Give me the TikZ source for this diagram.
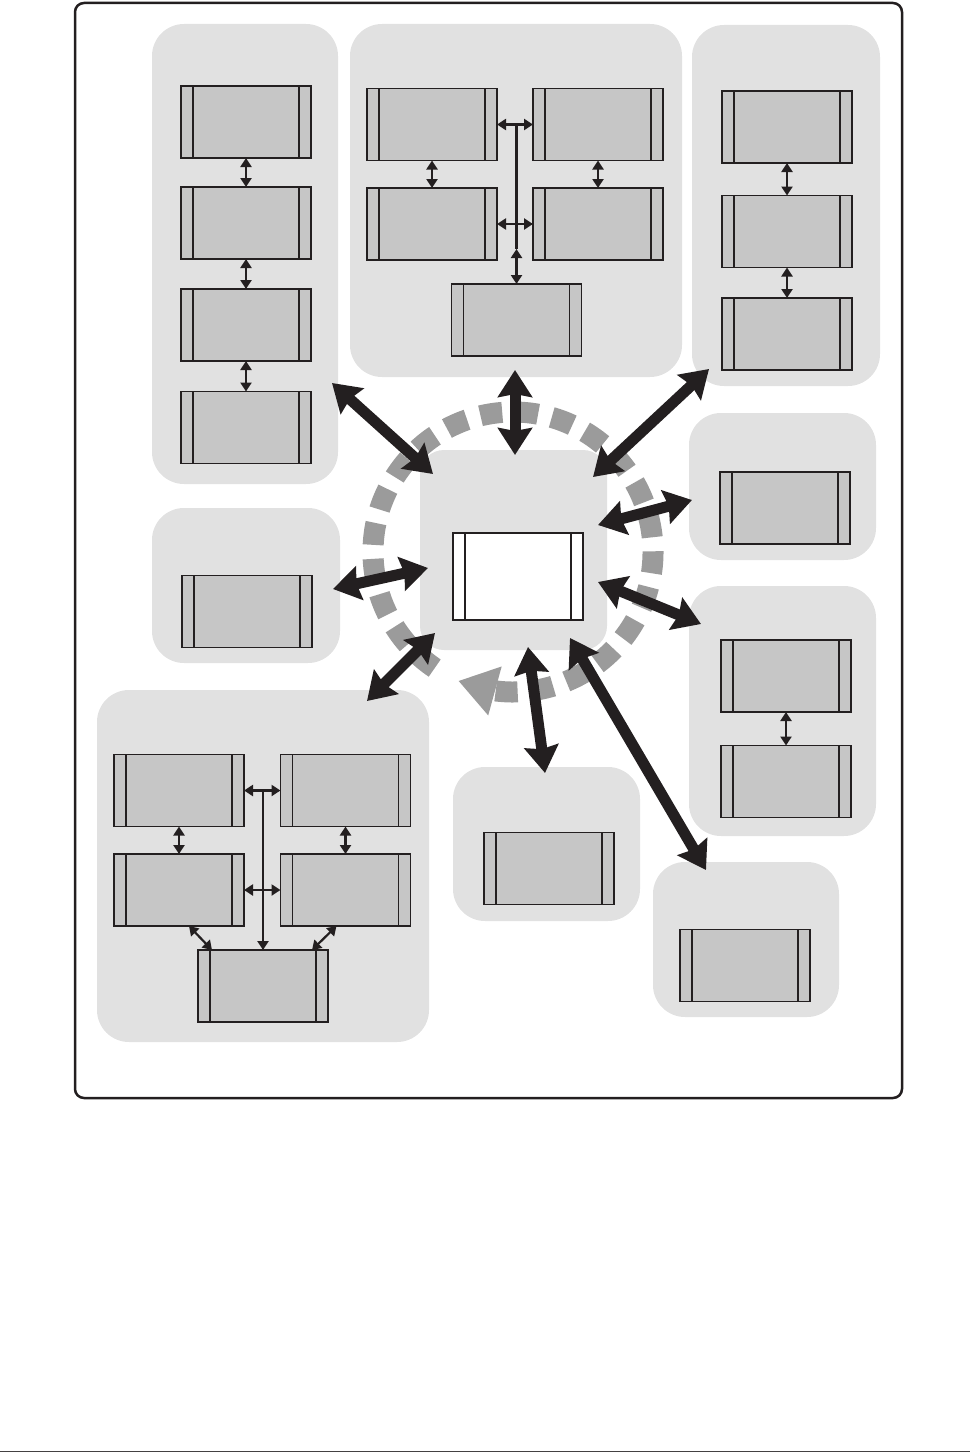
\documentclass[tikz,border=0pt]{standalone}
\usepackage{tikz}
\usetikzlibrary{arrows.meta,bending,calc}

\definecolor{ink}{HTML}{231F20}
\definecolor{pane}{HTML}{E1E1E1}
\definecolor{cell}{HTML}{C6C6C6}
\definecolor{ring}{HTML}{9B9B9B}

\begin{document}
\begin{tikzpicture}[x=1pt,y=-1pt,
  group/.style={fill=pane, rounded corners=32pt, inner sep=0pt, outer sep=0pt},
  unit/.style={draw=ink, line width=1.3pt, fill=cell, minimum width=130pt, minimum height=72pt,
    inner sep=0pt, outer sep=0pt,
    path picture={\draw[ink, line width=1.1pt]
      ([xshift=12pt]path picture bounding box.north west) -- ([xshift=12pt]path picture bounding box.south west)
      ([xshift=-12pt]path picture bounding box.north east) -- ([xshift=-12pt]path picture bounding box.south east);}},
  link/.style={ink, line width=2.2pt, {Triangle[length=9pt,width=11pt]}-{Triangle[length=9pt,width=11pt]}},
  bus/.style={ink, line width=2.2pt},
  flow/.style={ink, line width=11pt, {Stealth[length=27pt,width=34pt,inset=3pt]}-{Stealth[length=27pt,width=34pt,inset=3pt]}},
]
\useasboundingbox (0,0) rectangle (970,1453);

% frame and page rule
\draw[ink, line width=2.5pt, rounded corners=9pt] (75,3) rectangle (902,1098);
\draw[ink!85, line width=1pt] (0,1451) -- (970,1451);

% groups
\node[group, minimum width=186pt, minimum height=460pt] (gL) at (245,254) {};
\node[group, minimum width=332pt, minimum height=353pt] (gT) at (516,200.5) {};
\node[group, minimum width=188pt, minimum height=361pt] (gR) at (786,205.5) {};
\node[group, rounded corners=24pt, minimum width=187pt, minimum height=200pt] (gC) at (513.5,550) {};
\node[group, minimum width=188pt, minimum height=155pt] (gM) at (246,585.5) {};
\node[group, minimum width=187pt, minimum height=147pt] (gS) at (782.5,486.5) {};
\node[group, minimum width=187pt, minimum height=250pt] (gU) at (782.5,711) {};
\node[group, minimum width=332pt, minimum height=352pt] (gD) at (263,866) {};
\node[group, minimum width=187pt, minimum height=154pt] (gB) at (546.5,844) {};
\node[group, minimum width=186pt, minimum height=155pt] (gE) at (746,939.5) {};

% ring
\coordinate (hub) at (513,552);
\draw[ring, line width=21pt, dash pattern=on 22pt off 14pt, -{Triangle[length=38pt,width=48pt,flex]}]
  ($(hub)+(124:140)$) arc[start angle=-124, end angle=-473, radius=140pt];

% units
\node[unit] (L1) at (246,122) {};
\node[unit] (L2) at (246,223) {};
\node[unit] (L3) at (246,325) {};
\node[unit] (L4) at (246,427.5) {};

\node[unit] (T1) at (432,124.5) {};
\node[unit] (T2) at (598,124.5) {};
\node[unit] (T3) at (432,224) {};
\node[unit] (T4) at (598,224) {};
\node[unit] (T5) at (516.5,320) {};

\node[unit] (R1) at (787,127) {};
\node[unit] (R2) at (787,231.5) {};
\node[unit] (R3) at (787,334) {};

\node[unit, fill=white, minimum height=87pt] (C) at (518,576.5) {};
\node[unit] (M) at (247,611.5) {};
\node[unit] (S) at (785,508) {};
\node[unit] (U1) at (786,676) {};
\node[unit] (U2) at (786,781.5) {};
\node[unit] (B) at (549,868.5) {};
\node[unit] (E) at (745,965.5) {};

\node[unit] (D1) at (179,790.5) {};
\node[unit] (D2) at (345.5,790.5) {};
\node[unit] (D3) at (179,890) {};
\node[unit] (D4) at (345.5,890) {};
\node[unit] (D5) at (263,986) {};

% small links
\draw[link] (L1) -- (L2);
\draw[link] (L2) -- (L3);
\draw[link] (L3) -- (L4);
\draw[link] (T1) -- (T3);
\draw[link] (T2) -- (T4);
\draw[link] (T1) -- (T2);
\draw[link] (T3) -- (T4);
\draw[bus] (T1 -| T5) -- ([yshift=35pt]T5.north);
\draw[link] ([yshift=35pt]T5.north) -- (T5.north);
\draw[link] (R1) -- (R2);
\draw[link] (R2) -- (R3);
\draw[link] (U1) -- (U2);
\draw[link] (D1) -- (D3);
\draw[link] (D2) -- (D4);
\draw[link] (D1) -- (D2);
\draw[link] (D3) -- (D4);
\draw[bus, -{Triangle[length=9pt,width=11pt]}] (D1 -| D5) -- (D5.north);
\draw[link] ([xshift=10pt]D3.south) -- ([xshift=-51pt]D5.north);
\draw[link] ([xshift=-9pt]D4.south) -- ([xshift=49pt]D5.north);

% flows to the hub
\coordinate (oL) at (332,383);   \coordinate (iL) at (433,474);
\coordinate (oT) at (515,370);   \coordinate (iT) at (515,455);
\coordinate (oR) at (709,369);   \coordinate (iR) at (593,477);
\coordinate (oS) at (692,500);   \coordinate (iS) at (598,525);
\coordinate (oU) at (701,624);   \coordinate (iU) at (598,582);
\coordinate (oM) at (333,589);   \coordinate (iM) at (428,568);
\coordinate (oD) at (367,701);   \coordinate (iD) at (435,633);
\coordinate (oB) at (545,773);   \coordinate (iB) at (528,647);
\coordinate (oE) at (706,870);   \coordinate (iE) at (570,638);
\draw[flow] (oL) -- (iL);
\draw[flow] (oT) -- (iT);
\draw[flow] (oR) -- (iR);
\draw[flow] (oS) -- (iS);
\draw[flow] (oU) -- (iU);
\draw[flow] (oM) -- (iM);
\draw[flow] (oD) -- (iD);
\draw[flow] (oB) -- (iB);
\draw[flow] (oE) -- (iE);
\end{tikzpicture}
\end{document}
